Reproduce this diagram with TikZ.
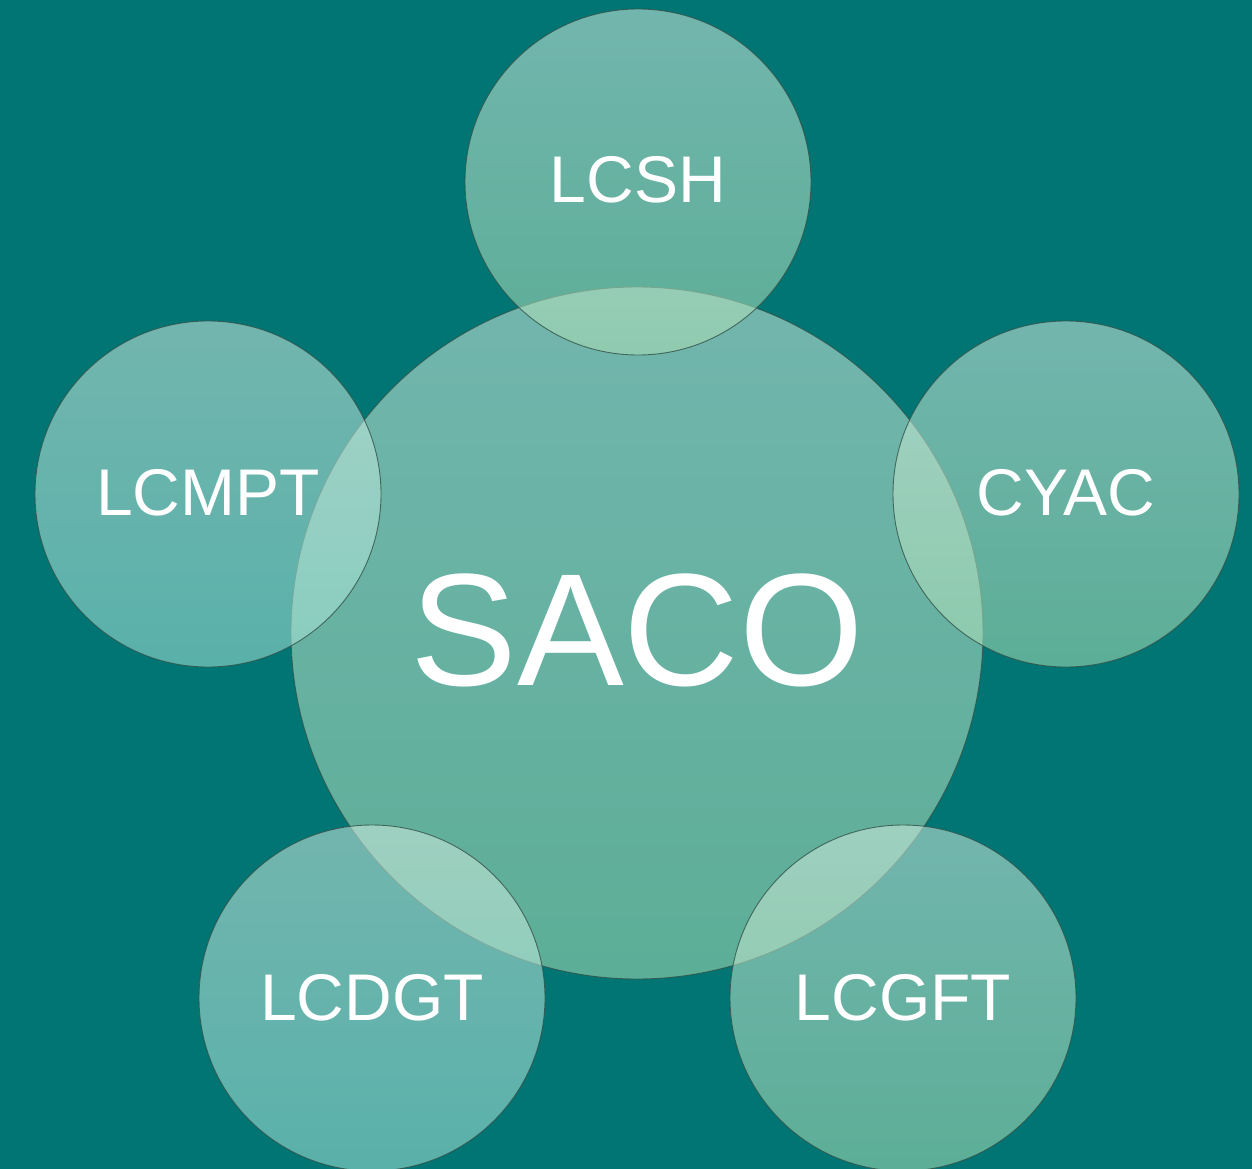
\documentclass[tikz,border=0pt]{standalone}
\usepackage{fontspec}
\setmainfont{Liberation Sans}
\definecolor{bgteal}{RGB}{0,117,116}
\definecolor{ctop}{RGB}{209,235,222}
\definecolor{cbot}{RGB}{170,222,180}
\definecolor{cbotblue}{RGB}{164,228,216}
\definecolor{edge}{RGB}{50,80,70}
\begin{document}
\begin{tikzpicture}[x=1pt,y=-1pt,
  bubble/.style={circle, inner sep=0pt, outer sep=0pt, top color=ctop, bottom color=cbot,
    fill opacity=0.55, draw=edge, draw opacity=0.8, line width=0.9pt, text opacity=1},
  small/.style={bubble, minimum size=346pt},
  bluish/.style={small, bottom color=cbotblue},
  big/.style={bubble, minimum size=692pt},
  lbl/.style={text=white, anchor=base, inner sep=0pt, font=\fontsize{66}{66}\selectfont}]
\fill[bgteal] (0,0) rectangle (1252,1169);
\useasboundingbox (0,0) rectangle (1252,1169);
\node[big] (saco) at (637,633) {};
\node[small] (lcsh) at (638,182) {};
\node[bluish] (lcmpt) at (208,494) {};
\node[small] (cyac) at (1066,494) {};
\node[bluish] (lcdgt) at (372,998) {};
\node[small] (lcgft) at (903,998) {};
\node[lbl, font=\fontsize{160}{160}\selectfont] (tsaco) at (637,685) {SACO};
\node[lbl] (tlcsh) at (638,203) {LCSH};
\node[lbl] (tlcmpt) at (208,515) {LCMPT};
\node[lbl] (tcyac) at (1066,515) {CYAC};
\node[lbl] (tlcdgt) at (372,1020) {LCDGT};
\node[lbl] (tlcgft) at (903,1020) {LCGFT};
\end{tikzpicture}
\end{document}
